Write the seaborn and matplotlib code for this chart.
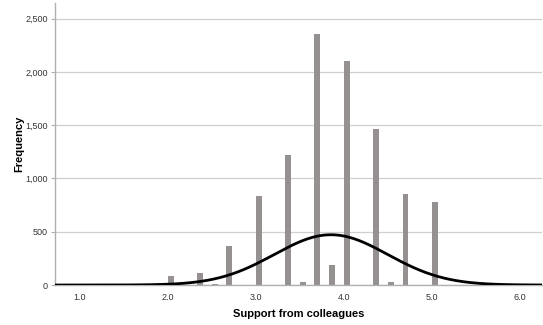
import numpy as np
import pandas as pd
import matplotlib
matplotlib.use("Agg")
import matplotlib.pyplot as plt
import seaborn as sns
from matplotlib.ticker import FuncFormatter, FixedLocator

# Data
bin_centers = [1.70, 2.04, 2.37, 2.54, 2.70, 3.04, 3.37, 3.54, 3.70, 3.87, 4.04, 4.37, 4.54, 4.70, 5.04]
frequencies = [5, 81, 113, 12, 369, 838, 1220, 31, 2360, 188, 2101, 1469, 25, 854, 775]
x_ticks = [1.0, 2.0, 3.0, 4.0, 5.0, 6.0]
y_ticks = [0, 500, 1000, 1500, 2000, 2500]

# Fitted normal curve parameters
curve_mean = 3.855
curve_sd = 0.645
curve_peak = 472

sns.set_theme(style="white")
plt.rcParams['font.family'] = ['Liberation Sans', 'DejaVu Sans']

fig = plt.figure(figsize=(5.43, 3.25), dpi=100)
ax = fig.add_axes([0.101, 0.123, 0.897, 0.867])

df = pd.DataFrame({"x": bin_centers, "y": frequencies})
sns.barplot(data=df, x="x", y="y", native_scale=True, width=0.41,
            color="#969191", saturation=1, edgecolor="none", ax=ax, zorder=2)

xs = np.linspace(0.72, 6.25, 400)
ys = curve_peak * np.exp(-0.5 * ((xs - curve_mean) / curve_sd) ** 2)
sns.lineplot(x=xs, y=ys, color="black", linewidth=2.0, ax=ax, zorder=3)

ax.set_xlim(0.72, 6.25)
ax.set_ylim(0, 2645)
ax.xaxis.set_major_locator(FixedLocator(x_ticks))
ax.yaxis.set_major_locator(FixedLocator(y_ticks))
ax.xaxis.set_major_formatter(FuncFormatter(lambda v, p: f"{v:.1f}"))
ax.yaxis.set_major_formatter(FuncFormatter(lambda v, p: f"{int(v):,}"))
ax.yaxis.grid(True, color="#cfcfcf", linewidth=0.9, zorder=0)
ax.set_axisbelow(True)

for s in ["top", "right"]:
    ax.spines[s].set_visible(False)
ax.spines["left"].set_color("#b0b0b0")
ax.spines["bottom"].set_color("#b0b0b0")
ax.spines["left"].set_linewidth(1.0)
ax.spines["bottom"].set_linewidth(1.0)

ax.tick_params(axis="x", length=0, labelsize=6.5, colors="#333333", pad=6)
ax.tick_params(axis="y", length=3, width=0.8, color="#b0b0b0", labelsize=6.5, labelcolor="#333333", left=True, pad=2)

ax.set_xlabel("Support from colleagues", fontsize=8, fontweight="bold", color="black")
ax.set_ylabel("Frequency", fontsize=8, fontweight="bold", color="black")
ax.yaxis.set_label_coords(-0.062, 0.5)
ax.xaxis.set_label_coords(0.5, -0.085)

fig.savefig("out.png", dpi=100)
